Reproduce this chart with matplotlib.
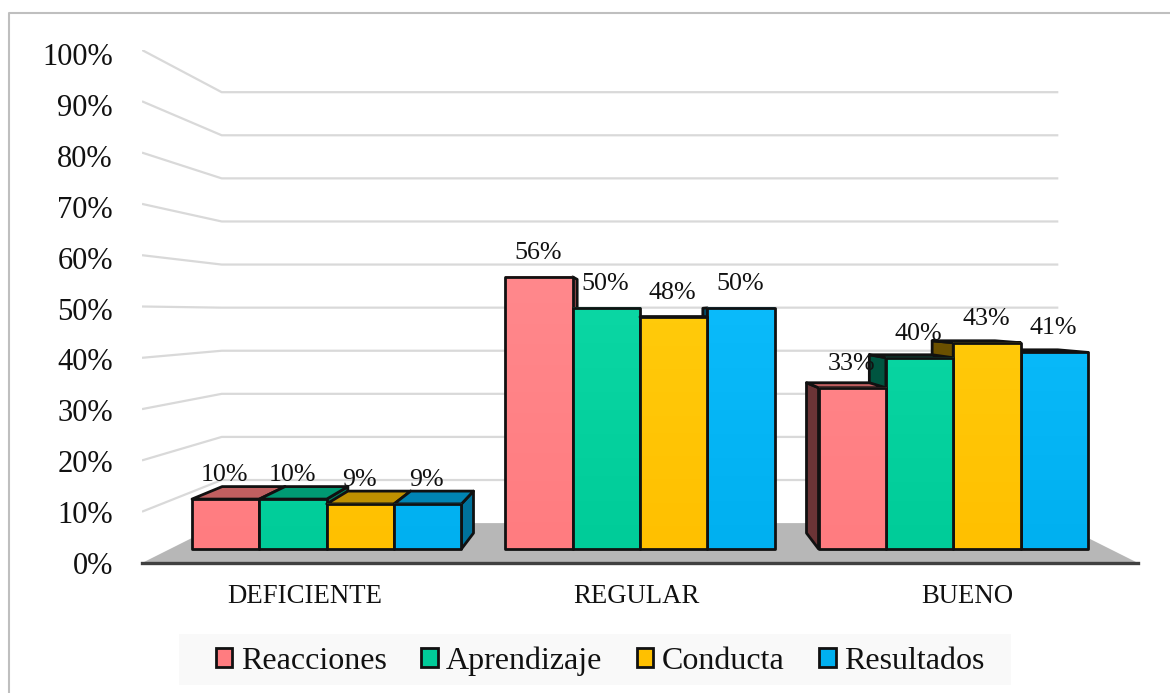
import numpy as np
import matplotlib.pyplot as plt
from matplotlib.colors import to_rgb
from matplotlib.patches import Polygon, Rectangle
from matplotlib.lines import Line2D

plt.rcParams['font.family'] = ['Liberation Serif', 'DejaVu Serif']

categories = ['DEFICIENTE', 'REGULAR', 'BUENO']
series = ['Reacciones', 'Aprendizaje', 'Conducta', 'Resultados']
reacciones = [10.3, 56.2, 33.3]
aprendizaje = [10.3, 49.8, 39.5]
conducta = [9.3, 47.9, 42.6]
resultados = [9.3, 49.8, 40.6]
values = [reacciones, aprendizaje, conducta, resultados]
y_ticks = np.arange(0, 101, 10)

front_colors = ['#FF7C80', '#00CC99', '#FFC000', '#00B0F0']
top_colors = ['#C05F60', '#009A73', '#BF9000', '#0084B4']
right_colors = ['#A85254', '#00805F', '#9A7400', '#00729C']
left_colors = ['#6B3436', '#005540', '#6B5000', '#004F6C']

W, H = 1170, 693
fig = plt.figure(figsize=(W / 100, H / 100), dpi=100)
ax = fig.add_axes([142 / W, 1 - 563 / H, (1138 - 142) / W, (563 - 50) / H])
for s in ax.spines.values():
    s.set_visible(False)

# perspective: everything shrinks towards a vanishing point in data units
vx, vy = 1.5, 48.6
wall_s = 0.84
bar_front = 0.9435
bar_back = 0.88
gap = 0.65
bar_w = 1 / (4 + gap)


def proj(x, v, s):
    return (vx + (x - vx) * s, vy + (v - vy) * s)


# gridlines on the side wall and back wall
for t in y_ticks[1:]:
    ax.plot(*zip(proj(0, t, 1), proj(0, t, wall_s), proj(3, t, wall_s)),
            color='#D9D9D9', lw=1.6, zorder=1, solid_capstyle='butt')
ax.add_patch(Polygon([proj(0, 0, 1), proj(0, 0, wall_s), proj(3, 0, wall_s), proj(3, 0, 1)],
                     fc='#B7B7B7', ec='none', zorder=1.5))
ax.plot([0, 3], [0, 0], color='#404040', lw=2.4, zorder=2, clip_on=False)


def face(pts, color, z):
    ax.add_patch(Polygon(pts, fc=color, ec='#111111', lw=2, joinstyle='round', zorder=z))


def front_face(p0, p1, v, color, z):
    # front faces get a little lighter towards the top of tall bars
    base = np.array(to_rgb(color))
    fade = np.linspace(0, v / 60, 40)[:, None, None] * 0.05
    img = np.clip(base[None, None, :] + fade, 0, 1)
    ax.imshow(img, extent=[p0[0], p1[0], p0[1], p1[1]], origin='lower', aspect='auto', zorder=z)
    ax.add_patch(Polygon([p0, (p1[0], p0[1]), p1, (p0[0], p1[1])], fc='none', ec='#111111',
                         lw=2, joinstyle='round', zorder=z + 0.05))


# bars furthest from the vanishing point are painted first
bars = []
for i in range(len(categories)):
    for j in range(len(series)):
        x0 = i + gap * bar_w / 2 + j * bar_w
        bars.append((abs(x0 + bar_w / 2 - vx), x0, j, values[j][i]))
bars.sort(key=lambda b: -b[0])

z = 3
for _, x0, j, v in bars:
    x1 = x0 + bar_w
    fl, fr = proj(x0, 0, bar_front), proj(x1, 0, bar_front)
    tl, tr = proj(x0, v, bar_front), proj(x1, v, bar_front)
    bl, br = proj(x0, 0, bar_back), proj(x1, 0, bar_back)
    ul, ur = proj(x0, v, bar_back), proj(x1, v, bar_back)
    if x1 < vx:
        face([fr, tr, ur, br], right_colors[j], z)
    if x0 > vx:
        face([fl, tl, ul, bl], left_colors[j], z)
    if v < vy:
        face([tl, tr, ur, ul], top_colors[j], z)
    front_face(fl, tr, v, front_colors[j], z + 0.1)
    z += 0.2
    ax.annotate(f'{round(v)}%', xy=((tl[0] + tr[0]) / 2, tl[1]), xytext=(-0.7, 17.4),
                textcoords='offset points', ha='center', va='center',
                fontsize=18.7, color='#111111', zorder=20)

ax.set_xlim(0, 3)
ax.set_ylim(0, 100)

# axis labels
ax.set_yticks(y_ticks * 0.992, [f'{t}%' for t in y_ticks])
ax.set_xticks([0.49, 1.488, 2.485], categories)
ax.tick_params(axis='y', length=0, pad=21, labelsize=22, labelcolor='#111111')
ax.tick_params(axis='x', length=0, pad=15, labelsize=19.3, labelcolor='#111111')

# chart border (runs off the picture on the right and bottom) and legend strip
fig.add_artist(Line2D([9 / W, 9 / W, 1], [0, 1 - 13 / H, 1 - 13 / H], color='#BFBFBF', lw=1.5))
fig.add_artist(Rectangle((179 / W, 1 - 685 / H), 832 / W, 51 / H, fc='#F9F9F9', ec='none',
                         transform=fig.transFigure, zorder=0.5))
handles = [Rectangle((0, 0), 1, 1, fc=c, ec='#111111', lw=2) for c in front_colors]
fig.legend(handles, series, loc='center', bbox_to_anchor=(600 / W, 1 - 661 / H), ncol=4,
           frameon=False, fontsize=23, handlelength=0.52, handleheight=0.52,
           handletextpad=0.26, columnspacing=1.08, labelcolor='#111111')

fig.savefig('out.png', dpi=100)
